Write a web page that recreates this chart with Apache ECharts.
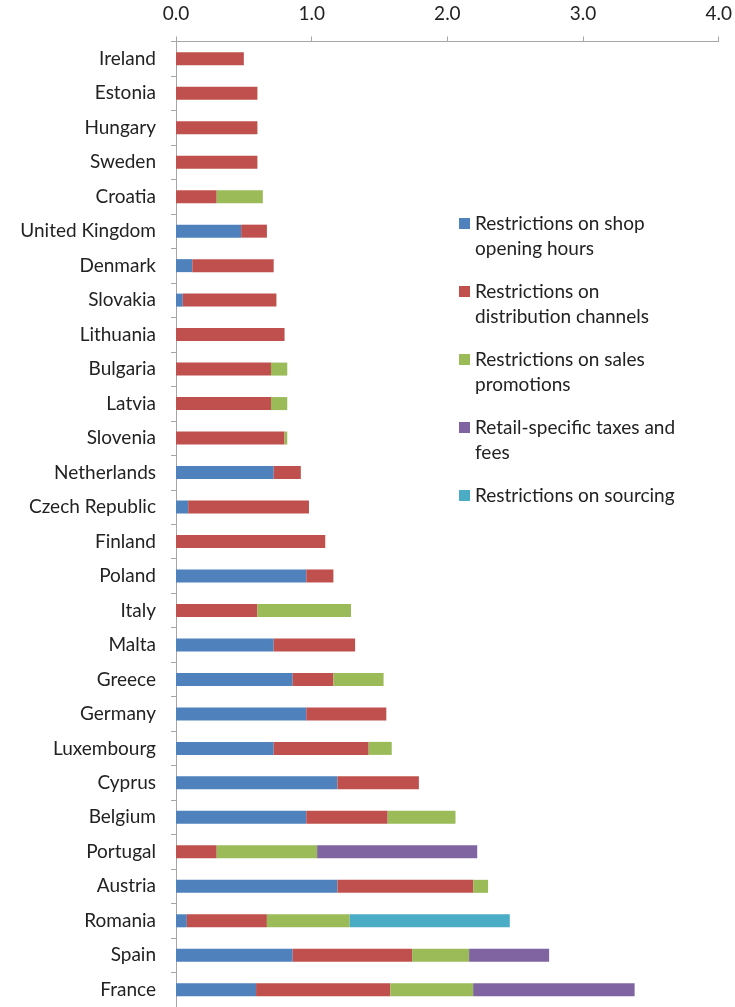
<!DOCTYPE html>
<html>
<head>
<meta charset="utf-8">
<script src="https://cdn.jsdelivr.net/npm/echarts@6/dist/echarts.min.js"></script>
<style>
html,body{margin:0;padding:0;background:#fff;}
#chart{width:735px;height:1007px;}
</style>
</head>
<body>
<div id="chart"></div>
<script>
var countries = ["Ireland","Estonia","Hungary","Sweden","Croatia","United Kingdom","Denmark","Slovakia","Lithuania","Bulgaria","Latvia","Slovenia","Netherlands","Czech Republic","Finland","Poland","Italy","Malta","Greece","Germany","Luxembourg","Cyprus","Belgium","Portugal","Austria","Romania","Spain","France"];
var shopHours    = [0,0,0,0,0,0.48,0.12,0.05,0,0,0,0,0.72,0.09,0,0.96,0,0.72,0.86,0.96,0.72,1.19,0.96,0,1.19,0.08,0.86,0.59];
var distribution = [0.50,0.60,0.60,0.60,0.30,0.19,0.60,0.69,0.80,0.70,0.70,0.80,0.20,0.89,1.10,0.20,0.60,0.60,0.30,0.59,0.70,0.60,0.60,0.30,1.00,0.59,0.88,0.99];
var promotions   = [0,0,0,0,0.34,0,0,0,0,0.12,0.12,0.02,0,0,0,0,0.69,0,0.37,0,0.17,0,0.50,0.74,0.11,0.61,0.42,0.61];
var taxes        = [0,0,0,0,0,0,0,0,0,0,0,0,0,0,0,0,0,0,0,0,0,0,0,1.18,0,0,0.59,1.19];
var sourcing     = [0,0,0,0,0,0,0,0,0,0,0,0,0,0,0,0,0,0,0,0,0,0,0,0,0,1.18,0,0];
var seriesNames = ["Restrictions on shop opening hours","Restrictions on distribution channels","Restrictions on sales promotions","Retail-specific taxes and fees","Restrictions on sourcing"];
var legendLines = ["Restrictions on shop\nopening hours","Restrictions on\ndistribution channels","Restrictions on sales\npromotions","Retail-specific taxes and\nfees","Restrictions on sourcing\n "];
var xTicks = ["0.0","1.0","2.0","3.0","4.0"];
var colors = ["#4F81BD","#C0504D","#9BBB59","#8064A2","#4BACC6"];

var FONT = "Lato";
var chart = echarts.init(document.getElementById('chart'), null, {renderer:'canvas'});
var dataSets = [shopHours, distribution, promotions, taxes, sourcing];
var series = dataSets.map(function(d, i){
  return {
    name: seriesNames[i],
    type: 'bar',
    stack: 'total',
    barWidth: 13,
    itemStyle: {color: colors[i]},
    data: d.map(function(v){ return v === 0 ? null : v; }),
    emphasis: {disabled: true}
  };
});
chart.setOption({
  animation: false,
  backgroundColor: '#ffffff',
  color: colors,
  grid: {left: 176, right: 15, top: 41.5, height: 966.5, containLabel: false},
  legend: {
    orient: 'vertical',
    left: 454,
    top: 181,
    itemWidth: 11,
    itemHeight: 11,
    itemGap: -7,
    icon: 'rect',
    data: seriesNames,
    formatter: function(name){ return '\n' + legendLines[seriesNames.indexOf(name)]; },
    textStyle: {fontFamily: FONT, fontSize: 19, color: '#222', lineHeight: 25},
    selectedMode: false
  },
  xAxis: {
    type: 'value',
    position: 'top',
    min: 0, max: 4, interval: 1,
    axisLine: {show: true, lineStyle: {color: '#A6A6A6', width: 1}},
    axisTick: {show: true, length: 5, lineStyle: {color: '#A6A6A6'}},
    splitLine: {show: false},
    axisLabel: {
      margin: 18,
      fontFamily: FONT, fontSize: 19, color: '#222',
      formatter: function(v){ return xTicks[Math.round(v)]; }
    }
  },
  yAxis: {
    type: 'category',
    inverse: true,
    data: countries,
    axisLine: {show: true, lineStyle: {color: '#A6A6A6', width: 1}},
    axisTick: {show: true, length: 5, lineStyle: {color: '#A6A6A6'}},
    axisLabel: {margin: 20, fontFamily: FONT, fontSize: 19, color: '#222'}
  },
  series: series
});
</script>
</body>
</html>
